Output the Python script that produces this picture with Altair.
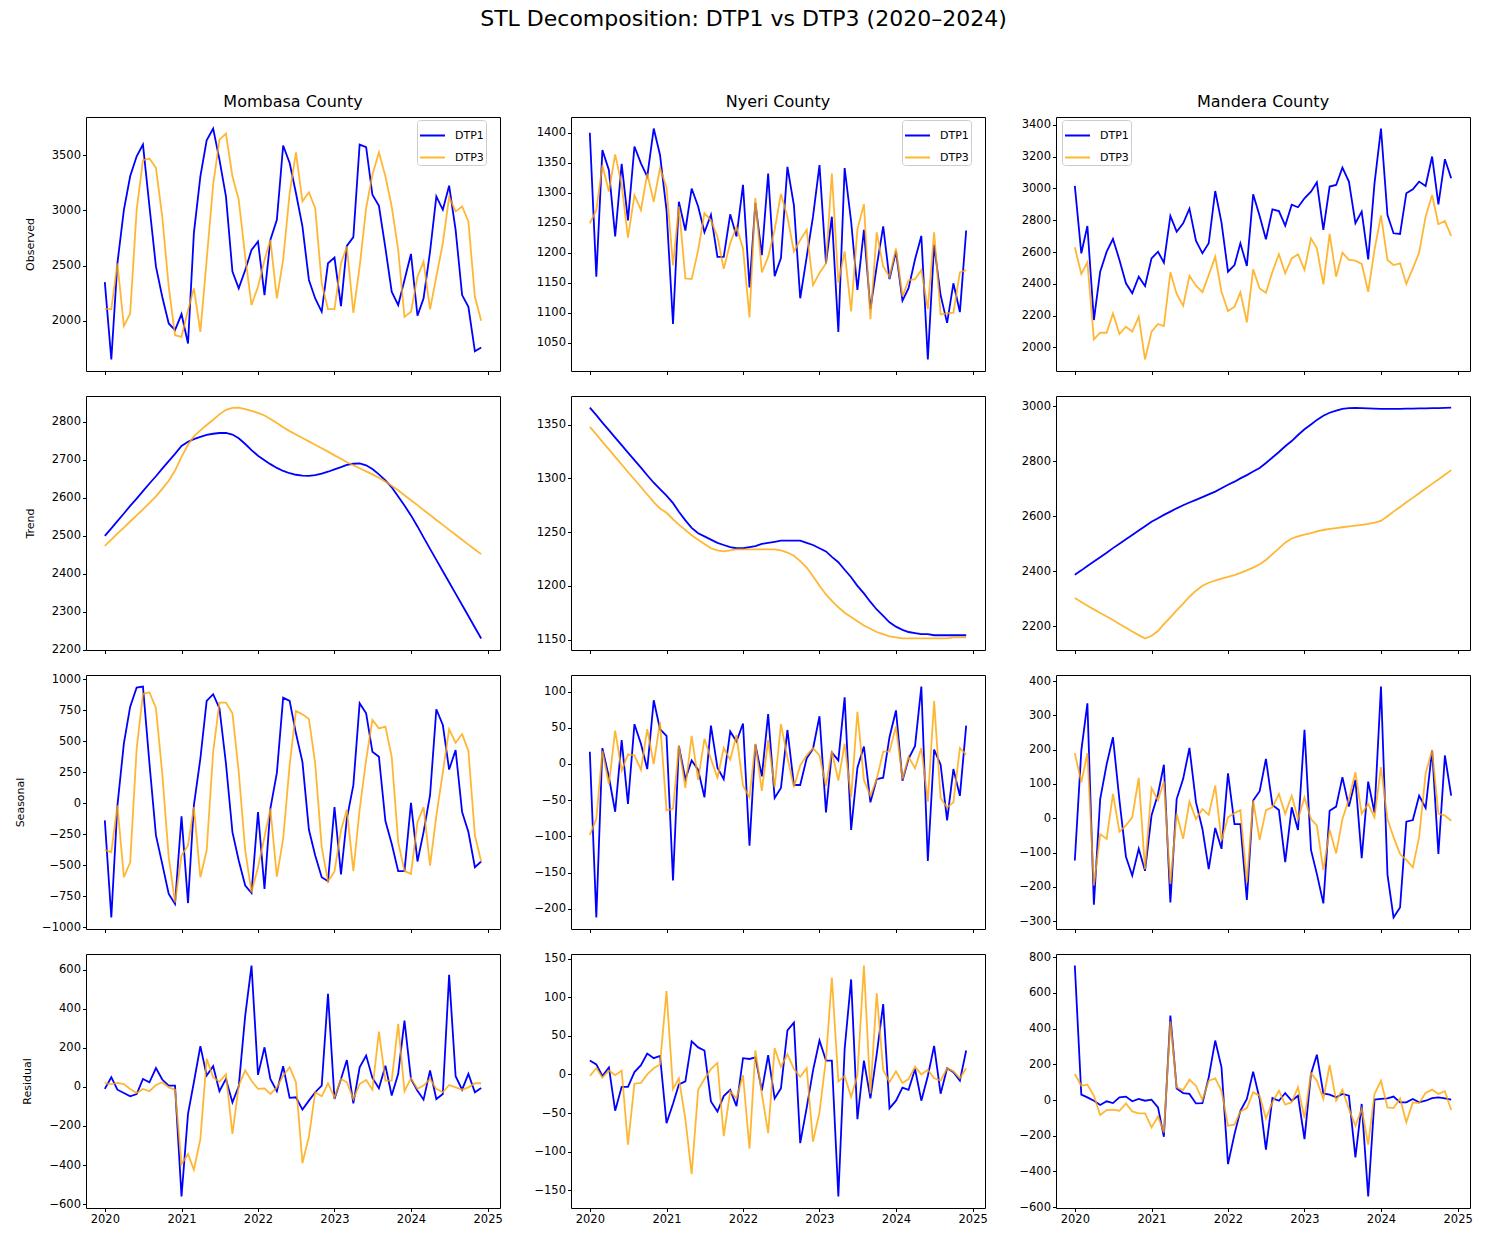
import altair as alt
import pandas as pd

# Monthly series, Jan 2020 .. Dec 2024
months = pd.date_range("2020-01-01", periods=60, freq="MS")
counties = ["Mombasa County", "Nyeri County", "Mandera County"]
components = ["Observed", "Trend", "Seasonal", "Residual"]
series_names = ["DTP1", "DTP3"]

# ---- Observed ----
mombasa_obs_dtp1 = [2350, 1650, 2520, 3006, 3309, 3491, 3597, 3036, 2491, 2218,
                    1976, 1915, 2061, 1794, 2794, 3309, 3636, 3742, 3461, 3127,
                    2446, 2294, 2461, 2642, 2718, 2233, 2733, 2915, 3588, 3430,
                    3158, 2855, 2370, 2203, 2082, 2521, 2573, 2133, 2679, 2758,
                    3597, 3573, 3142, 3042, 2658, 2264, 2143, 2370, 2606, 2046,
                    2203, 2627, 3127, 3006, 3224, 2824, 2233, 2127, 1724, 1758]
mombasa_obs_dtp3 = [2109, 2106, 2521, 1952, 2067, 3006, 3455, 3470, 3385, 2945,
                    2309, 1870, 1855, 2097, 2294, 1900, 2552, 3233, 3642, 3697,
                    3309, 3097, 2582, 2143, 2309, 2552, 2733, 2203, 2552, 3158,
                    3527, 3082, 3164, 3021, 2339, 2106, 2106, 2521, 2673, 2073,
                    2491, 3021, 3324, 3527, 3309, 3036, 2642, 2036, 2082, 2400,
                    2536, 2103, 2400, 2703, 3121, 2991, 3036, 2900, 2218, 2000]
nyeri_obs_dtp1 = [1400, 1160, 1371, 1338, 1227, 1348, 1254, 1377, 1349, 1327,
                  1407, 1363, 1271, 1081, 1285, 1237, 1307, 1277, 1234, 1263,
                  1193, 1193, 1264, 1227, 1313, 1142, 1283, 1196, 1332, 1161,
                  1191, 1343, 1279, 1124, 1193, 1260, 1346, 1182, 1260, 1068,
                  1341, 1252, 1138, 1238, 1106, 1177, 1244, 1156, 1202, 1120,
                  1141, 1189, 1228, 1022, 1213, 1129, 1083, 1149, 1101, 1237]
nyeri_obs_dtp3 = [1249, 1271, 1346, 1302, 1364, 1313, 1225, 1296, 1271, 1332,
                  1285, 1341, 1309, 1179, 1277, 1157, 1156, 1204, 1266, 1254,
                  1227, 1173, 1216, 1243, 1207, 1092, 1291, 1167, 1193, 1238,
                  1298, 1260, 1202, 1221, 1238, 1146, 1166, 1182, 1332, 1150,
                  1202, 1102, 1239, 1281, 1089, 1234, 1177, 1160, 1207, 1127,
                  1154, 1156, 1171, 1106, 1234, 1097, 1099, 1100, 1167, 1171]
mandera_obs_dtp1 = [3016, 2592, 2764, 2172, 2476, 2602, 2682, 2550, 2403, 2340,
                    2445, 2386, 2560, 2602, 2533, 2827, 2728, 2781, 2873, 2672,
                    2592, 2655, 2984, 2785, 2476, 2518, 2655, 2512, 2963, 2827,
                    2680, 2869, 2858, 2766, 2898, 2882, 2938, 2980, 3039, 2739,
                    3012, 3022, 3131, 3043, 2781, 2854, 2554, 3030, 3377, 2833,
                    2718, 2714, 2970, 2995, 3043, 3016, 3201, 2900, 3184, 3064]
mandera_obs_dtp3 = [2630, 2462, 2535, 2050, 2092, 2092, 2214, 2084, 2130, 2099,
                    2193, 1924, 2099, 2147, 2134, 2472, 2336, 2262, 2451, 2388,
                    2348, 2455, 2571, 2350, 2229, 2256, 2346, 2157, 2491, 2371,
                    2344, 2476, 2586, 2466, 2560, 2586, 2487, 2686, 2623, 2397,
                    2714, 2445, 2596, 2550, 2546, 2525, 2350, 2613, 2831, 2550,
                    2518, 2529, 2399, 2497, 2596, 2823, 2959, 2775, 2795, 2701]

# ---- Trend ----
mombasa_trend_dtp1 = [2500, 2520, 2539, 2559, 2579, 2598, 2618, 2638, 2657, 2677,
                      2697, 2716, 2737, 2748, 2755, 2761, 2766, 2769, 2771, 2771,
                      2767, 2757, 2742, 2726, 2711, 2699, 2689, 2679, 2671, 2665,
                      2661, 2659, 2658, 2660, 2664, 2669, 2675, 2681, 2687, 2690,
                      2691, 2686, 2676, 2662, 2646, 2628, 2604, 2580, 2554, 2525,
                      2496, 2466, 2437, 2407, 2378, 2348, 2318, 2289, 2259, 2230]
mombasa_trend_dtp3 = [2474, 2490, 2506, 2522, 2538, 2554, 2570, 2587, 2604, 2624,
                      2645, 2672, 2708, 2740, 2762, 2778, 2792, 2806, 2820, 2832,
                      2837, 2838, 2834, 2829, 2824, 2817, 2808, 2797, 2786, 2776,
                      2767, 2758, 2749, 2740, 2731, 2722, 2712, 2703, 2694, 2686,
                      2678, 2670, 2662, 2653, 2643, 2632, 2620, 2607, 2594, 2581,
                      2568, 2555, 2542, 2529, 2516, 2503, 2490, 2477, 2464, 2452]
nyeri_trend_dtp1 = [1366, 1359, 1352, 1345, 1338, 1331, 1324, 1317, 1310, 1303,
                    1296, 1290, 1284, 1277, 1269, 1261, 1254, 1249, 1246, 1243,
                    1240, 1238, 1236, 1235, 1235, 1236, 1237, 1239, 1240, 1241,
                    1242, 1242, 1242, 1242, 1240, 1238, 1235, 1232, 1227, 1222,
                    1215, 1208, 1200, 1193, 1185, 1178, 1172, 1166, 1162, 1159,
                    1157, 1156, 1155, 1155, 1154, 1154, 1154, 1154, 1154, 1154]
nyeri_trend_dtp3 = [1348, 1341, 1334, 1327, 1320, 1313, 1306, 1299, 1292, 1285,
                    1278, 1272, 1268, 1262, 1257, 1252, 1247, 1243, 1239, 1235,
                    1233, 1232, 1233, 1234, 1234, 1234, 1234, 1234, 1234, 1234,
                    1233, 1231, 1228, 1223, 1217, 1209, 1200, 1192, 1186, 1180,
                    1175, 1171, 1167, 1163, 1160, 1157, 1155, 1153, 1152, 1151,
                    1151, 1151, 1151, 1151, 1151, 1151, 1151, 1152, 1152, 1152]
mandera_trend_dtp1 = [2387, 2403, 2419, 2435, 2451, 2467, 2484, 2500, 2516, 2532,
                      2548, 2564, 2580, 2593, 2605, 2617, 2629, 2640, 2650, 2660,
                      2670, 2680, 2690, 2702, 2715, 2726, 2738, 2750, 2763, 2776,
                      2794, 2814, 2834, 2855, 2874, 2896, 2917, 2934, 2951, 2966,
                      2977, 2985, 2991, 2994, 2995, 2994, 2993, 2992, 2991, 2991,
                      2991, 2991, 2992, 2992, 2993, 2993, 2994, 2994, 2995, 2996]
mandera_trend_dtp3 = [2302, 2288, 2274, 2261, 2248, 2235, 2222, 2208, 2194, 2180,
                      2167, 2155, 2165, 2182, 2207, 2232, 2257, 2282, 2307, 2329,
                      2347, 2358, 2366, 2373, 2379, 2386, 2394, 2403, 2413, 2425,
                      2441, 2462, 2483, 2504, 2519, 2527, 2533, 2539, 2545, 2550,
                      2554, 2557, 2560, 2563, 2566, 2569, 2572, 2577, 2583, 2600,
                      2617, 2634, 2651, 2667, 2684, 2701, 2718, 2734, 2751, 2768]

# ---- Seasonal ----
mombasa_seas_dtp1 = [-138, -920, -20, 483, 779, 933, 941, 321, -259, -488,
                     -731, -812, -105, -804, -16, 361, 825, 879, 766, 321,
                     -232, -461, -663, -723, -70, -690, -43, 245, 852, 825,
                     564, 334, -213, -421, -596, -628, -30, -574, -124, 146,
                     806, 725, 415, 375, -143, -326, -547, -547, 3, -469,
                     -232, 65, 758, 631, 272, 429, -70, -232, -515, -469]
mombasa_seas_dtp3 = [-375, -394, -16, -596, -475, 442, 882, 895, 766, 240,
                     -434, -798, -421, -340, -30, -596, -380, 415, 812, 812,
                     725, 254, -380, -717, -515, -272, -43, -591, -286, 307,
                     744, 717, 680, 321, -353, -631, -550, -218, -51, -547,
                     -50, 350, 672, 604, 618, 375, -313, -547, -569, -151,
                     -30, -502, -100, 250, 596, 488, 558, 423, -259, -469]
nyeri_seas_dtp1 = [17, -212, 22, -18, -66, 33, -55, 55, 28, -7,
                   88, 48, 39, -161, 25, -21, 5, -8, -46, 53,
                   -5, -21, 45, 31, 56, -113, 27, -17, 69, -47,
                   -33, 47, -29, -29, 8, 21, 66, -67, 16, 5,
                   92, -91, -5, 24, -53, -21, -19, 37, 74, -23,
                   7, 25, 107, -134, 20, -1, -78, -7, -44, 53]
nyeri_seas_dtp3 = [-98, -76, 18, -28, 46, -9, 13, 12, -8, 48,
                   0, 58, -64, -62, 25, -33, 39, -22, 35, 7,
                   -19, 22, 6, 40, -30, -46, 28, -37, 33, -32,
                   55, 9, -32, -2, 12, 22, 12, -30, 18, -23,
                   28, -46, 72, -22, -44, -21, 17, 17, 52, -21,
                   10, -6, 22, -52, 87, -47, -60, -53, 22, 13]
mandera_seas_dtp1 = [-123, 197, 335, -252, 56, 158, 236, 52, -112, -167,
                     -89, -153, 8, 71, 156, -245, 56, 115, 205, 47,
                     -31, -148, -28, -89, 131, -17, -17, -238, 52, 79,
                     173, 39, 24, -128, 32, -34, 258, -92, -162, -248,
                     22, 34, 120, 34, 112, -116, 107, 17, 384, -164,
                     -289, -260, -10, -5, 66, 30, 199, -104, 183, 66]
mandera_seas_dtp3 = [190, 105, 190, -196, -46, -60, 71, -39, -21, 3,
                     118, -148, 88, 53, 107, -191, 13, -60, 49, -2,
                     27, 10, 95, -65, 3, 15, 24, -187, 52, -63,
                     24, 32, 71, 13, 66, -2, 61, -2, -21, -151,
                     -33, -102, -2, 56, 134, 13, 42, 3, 149, -2,
                     -55, -104, -121, -143, -55, 131, 199, 13, 8, -7]

# ---- Residual ----
mombasa_resid_dtp1 = [-10, 50, -14, -31, -48, -36, 41, 24, 97, 38,
                      7, 7, -561, -138, 24, 209, 58, 106, -22, 41,
                      -79, 3, 366, 622, 62, 203, 41, -22, 106, -56,
                      -53, -116, -70, -27, 7, 477, -62, 41, 138, -84,
                      101, 161, 46, -7, 109, -44, 67, 340, 41, -19,
                      -65, 84, -62, -36, 574, 55, -14, 67, -27, -5]
mombasa_resid_dtp3 = [19, 15, 21, 15, -10, -31, -10, -22, 10, 24,
                      -2, -14, -395, -344, -424, -267, 144, 50, 27, 65,
                      -241, 7, 85, 32, -10, -7, -36, -2, 58, 101,
                      24, -390, -255, -27, -48, 19, -53, 41, 24, -62,
                      15, 36, -14, 284, 32, 32, 323, -22, 44, -10,
                      7, 41, -10, -27, 10, -2, -14, -2, 19, 19]
nyeri_resid_dtp1 = [18, 13, -2, 9, -47, -16, -16, 3, 12, 27,
                    21, 24, -63, -38, -13, -9, 43, 35, 31, -35,
                    -48, -28, -20, -41, 21, 20, 22, -21, 25, -31,
                    -18, 57, 67, -89, -43, 5, 44, 18, 18, -158,
                    33, 123, -58, 18, -31, 26, 91, -44, -34, -17,
                    -20, 7, -34, -2, 37, -25, 8, 3, -8, 31]
nyeri_resid_dtp3 = [-2, 8, -4, 5, -1, 5, -91, -12, -11, 0,
                    8, 13, 108, -19, -5, -58, -129, -20, -6, 7,
                    15, -80, -22, -31, -1, -96, 31, -25, -76, 34,
                    10, 26, 7, -3, 8, -87, -49, 20, 125, -9,
                    -2, -29, -1, 141, -25, 105, 6, -10, 4, -11,
                    -6, 10, 0, 6, -5, -8, 8, 4, -5, 8]
mandera_resid_dtp1 = [753, 30, 15, -4, -28, -7, -17, 15, 19, -7,
                      6, -4, 2, -41, -206, 473, 65, 39, 34, -19,
                      -17, 127, 333, 183, -359, -191, -60, 6, 159, 6,
                      -278, 11, -4, 39, -4, 24, -219, 146, 254, 37,
                      30, 15, 34, 24, -321, -22, -540, 2, 6, 9,
                      19, -13, -13, 6, -13, -4, 11, 15, 9, 2]
mandera_resid_dtp3 = [146, 80, 86, 24, -84, -56, -54, -60, -19, -64,
                      -75, -75, -153, -92, -181, 440, 71, 56, 114, 80,
                      0, 108, 121, 52, -144, -138, -64, -45, 43, 24,
                      -103, -13, 52, -26, -13, 71, -101, 151, 108, 6,
                      196, -4, 58, -50, -144, -50, -250, 34, 108, -41,
                      -45, 9, -125, -13, -17, 39, 58, 34, 49, -56]

# y tick values per panel (row = component, column = county)
y_ticks = [
    [list(range(2000, 3501, 500)), list(range(1050, 1401, 50)), list(range(2000, 3401, 200))],
    [list(range(2200, 2801, 100)), list(range(1150, 1351, 50)), list(range(2200, 3001, 200))],
    [list(range(-1000, 1001, 250)), list(range(-200, 101, 50)), list(range(-300, 401, 100))],
    [list(range(-600, 601, 200)), list(range(-150, 151, 50)), list(range(-600, 801, 200))],
]

grid = [
    [(mombasa_obs_dtp1, mombasa_obs_dtp3), (nyeri_obs_dtp1, nyeri_obs_dtp3), (mandera_obs_dtp1, mandera_obs_dtp3)],
    [(mombasa_trend_dtp1, mombasa_trend_dtp3), (nyeri_trend_dtp1, nyeri_trend_dtp3), (mandera_trend_dtp1, mandera_trend_dtp3)],
    [(mombasa_seas_dtp1, mombasa_seas_dtp3), (nyeri_seas_dtp1, nyeri_seas_dtp3), (mandera_seas_dtp1, mandera_seas_dtp3)],
    [(mombasa_resid_dtp1, mombasa_resid_dtp3), (nyeri_resid_dtp1, nyeri_resid_dtp3), (mandera_resid_dtp1, mandera_resid_dtp3)],
]

FONT = "DejaVu Sans"
PANEL_W, PANEL_H = 414, 254

# x range padded by 5% on both sides, year ticks
span = months[-1] - months[0]
x_lo = months[0] - 0.05 * span
x_hi = months[-1] + 0.05 * span


def as_datetime(ts):
    return alt.DateTime(year=ts.year, month=ts.month, date=ts.day,
                        hours=ts.hour, minutes=ts.minute)


year_ticks = [alt.DateTime(year=y, month=1, date=1) for y in range(2020, 2026)]


def panel(row, col):
    dtp1, dtp3 = grid[row][col]
    df = pd.DataFrame({
        "month": list(months) * 2,
        "value": list(dtp1) + list(dtp3),
        "series": ["DTP1"] * len(dtp1) + ["DTP3"] * len(dtp3),
    })
    lo = min(min(dtp1), min(dtp3))
    hi = max(max(dtp1), max(dtp3))
    pad = 0.05 * (hi - lo)

    if row == 0:
        legend = alt.Legend(
            title=None, orient="none",
            legendX=6 if col == 2 else 331, legendY=3,
            symbolType="stroke", symbolSize=625, symbolStrokeWidth=2,
            labelFont=FONT, labelFontSize=11, labelColor="black", labelOffset=9,
            labelExpr="datum.label + '\u00a0\u00a0'",
            rowPadding=3, padding=2, cornerRadius=3,
            strokeColor="#cccccc", fillColor="white",
        )
    else:
        legend = None

    y_axis = alt.Axis(values=y_ticks[row][col], format="d",
                      title=components[row] if col == 0 else None)
    x_axis = alt.Axis(values=year_ticks, format="%Y", labels=(row == 3), title=None)

    chart = alt.Chart(df).mark_line(strokeWidth=1.8).encode(
        x=alt.X("month:T", scale=alt.Scale(domain=[as_datetime(x_lo), as_datetime(x_hi)]), axis=x_axis),
        y=alt.Y("value:Q", scale=alt.Scale(domain=[lo - pad, hi + pad], nice=False, zero=False), axis=y_axis),
        color=alt.Color("series:N", scale=alt.Scale(domain=series_names, range=["blue", "orange"]), legend=legend),
        opacity=alt.Opacity("series:N", scale=alt.Scale(domain=series_names, range=[1.0, 0.8]), legend=None),
    ).properties(width=PANEL_W, height=PANEL_H)

    if row == 0:
        chart = chart.properties(title=alt.TitleParams(
            counties[col], font=FONT, fontSize=16, fontWeight="normal", color="black", offset=7))
    return chart


panels = [panel(r, c) for r in range(4) for c in range(3)]

chart = alt.concat(
    *panels, columns=3, spacing={"row": 25, "column": 71}, bounds="flush"
).resolve_scale(
    x="independent", y="independent", color="independent", opacity="independent"
).properties(
    title=alt.TitleParams("STL Decomposition: DTP1 vs DTP3 (2020–2024)", font=FONT, fontSize=22,
                          fontWeight="normal", color="black", anchor="middle", offset=63),
    padding={"left": 14, "top": 7, "right": 10, "bottom": 8},
).configure_axis(
    labelFont=FONT, labelFontSize=11.5, labelColor="black",
    titleFont=FONT, titleFontSize=11, titleFontWeight="normal", titleColor="black", titlePadding=16,
    tickColor="black", tickSize=3.5, labelPadding=2, domain=False, grid=False,
).configure_view(
    stroke="black", strokeWidth=1,
)

chart.save("out.html", embed_options={"renderer": "svg", "actions": False})
